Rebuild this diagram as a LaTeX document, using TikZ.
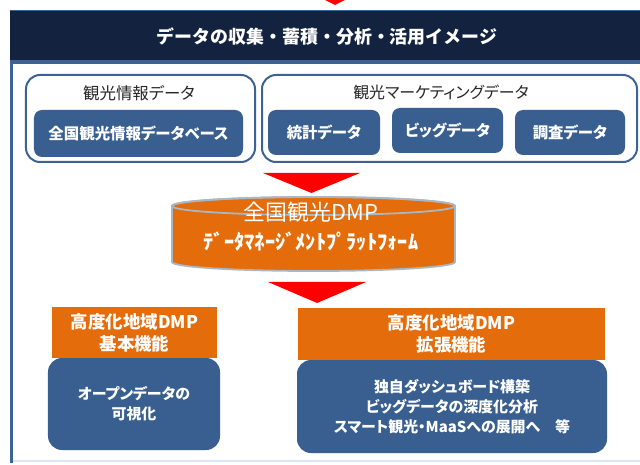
\documentclass[tikz,border=0pt]{standalone}
\usepackage{fontspec}
\setmainfont{Noto Sans CJK JP}[RawFeature={+palt}]
\newfontfamily\jpfull{Noto Sans CJK JP}
\definecolor{navy}{HTML}{13233F}
\definecolor{frameblue}{HTML}{3D6294}
\definecolor{btnblue}{HTML}{385F8F}
\definecolor{orng}{HTML}{E46C0A}
\definecolor{cyledge}{HTML}{A9B6C4}
\definecolor{arrred}{HTML}{FF0000}
\definecolor{lightline}{HTML}{DCE7F3}
\definecolor{labelgray}{HTML}{262626}
\tikzset{
  grpbox/.style={draw=frameblue, line width=2bp, rounded corners=14bp, fill=white, inner sep=0pt},
  btnbox/.style={fill=btnblue, rounded corners=8bp, text=white, font=\fontsize{15.5}{18}\selectfont\bfseries, inner sep=0pt, align=center},
  grplabel/.style={text=labelgray, font=\fontsize{16}{19}\selectfont, inner sep=0pt},
  orngbox/.style={fill=orng, text=white, font=\fontsize{17.5}{22}\selectfont\bfseries, inner sep=0pt, align=center},
  bluebox/.style={fill=btnblue, rounded corners=14bp, text=white, font=\fontsize{15}{20}\selectfont\bfseries, inner sep=0pt, align=center},
  redarrow/.style={fill=arrred, draw=none},
}
\begin{document}
\begin{tikzpicture}[x=1bp,y=-1bp]
\useasboundingbox (0,0) rectangle (640,465);
% top arrow tip
\fill[arrred] (305,-10) -- (365,-10) -- (335,5) -- cycle;
% frame
\fill[white] (11,62) rectangle (640,462);
\draw[lightline, line width=2bp] (11,461) -- (640,461);
\draw[frameblue, line width=3bp] (11.5,10) -- (11.5,463);
\fill[navy] (10,10) rectangle (641,61);
\draw[frameblue, line width=1.5bp] (10,10.5) -- (641,10.5);
\fill[frameblue] (10,60) rectangle (641,64);
\node[text=white, font=\jpfull\fontsize{18}{20}\selectfont\bfseries, inner sep=0pt] (title) at (327,37) {データの収集・蓄積・分析・活用イメージ};
% left group
\node[grpbox, minimum width=229bp, minimum height=87bp] (g1) at (140.5,118.5) {};
\node[grplabel, font=\fontsize{16.5}{19}\selectfont] (g1lab) at (139,93) {観光情報データ};
\node[btnbox, minimum width=209bp, minimum height=47bp] (db) at (138.5,133.5) {全国観光情報データベース};
% right group
\node[grpbox, minimum width=375bp, minimum height=87bp] (g2) at (449.5,118.5) {};
\node[grplabel] (g2lab) at (441,92) {観光マーケティングデータ};
\node[btnbox, minimum width=112bp, minimum height=45bp] (stat) at (324,132.5) {統計データ};
\node[btnbox, minimum width=111bp, minimum height=45bp] (big) at (447.5,130.5) {ビッグデータ};
\node[btnbox, minimum width=110bp, minimum height=45bp] (survey) at (570,132.5) {調査データ};
% arrow 1
\fill[redarrow] (263,173) -- (360,173) -- (311.5,193) -- cycle;
% cylinder
\filldraw[fill=orng, draw=cyledge, line width=1.8bp]
  (172,206) -- (172,262) arc[start angle=180, end angle=0, x radius=141.5, y radius=9]
  -- (455,206) arc[start angle=0, end angle=-180, x radius=141.5, y radius=9] -- cycle;
\draw[cyledge, line width=1.8bp] (313.5,206) ellipse[x radius=141.5, y radius=9];
\coordinate (dmp) at (313.5,238);
\node[text=white, font=\fontsize{22}{24}\selectfont, inner sep=0pt] (dmpname) at (311,212) {全国観光DMP};
\node[text=white, font=\jpfull\fontsize{20.5}{22}\selectfont\bfseries, inner sep=0pt] (dmpsub) at (311,242) {ﾃﾞｰﾀﾏﾈｰｼﾞﾒﾝﾄﾌﾟﾗｯﾄﾌｫｰﾑ};
% arrow 2
\fill[redarrow] (268,282) -- (366,282) -- (317,303) -- cycle;
% bottom left
\node[orngbox, minimum width=165bp, minimum height=51bp] (basic) at (134.5,332.5) {高度化地域DMP\\基本機能};
\node[bluebox, minimum width=172bp, minimum height=92bp] (open) at (134,404) {オープンデータの\\可視化};
% bottom right
\node[orngbox, minimum width=307bp, minimum height=52bp] (ext) at (451.5,334) {高度化地域DMP\\拡張機能};
\node[bluebox, minimum width=310bp, minimum height=93bp] (adv) at (452,406.5) {独自ダッシュボード構築\\ビッグデータの深度化分析\\スマート観光・MaaSへの展開へ　等};
\end{tikzpicture}
\end{document}
